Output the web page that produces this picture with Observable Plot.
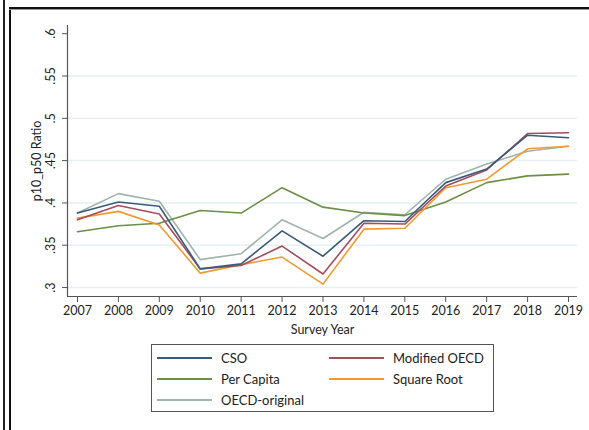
<!DOCTYPE html>
<html><head><meta charset="utf-8">
<script src="https://cdn.jsdelivr.net/npm/d3@7"></script>
<script src="https://cdn.jsdelivr.net/npm/@observablehq/plot@0.6"></script>
<style>
body{margin:0;background:#fff;font-family:Lato,sans-serif;}
#wrap{position:relative;width:589px;height:430px;overflow:hidden;background:#fff;}
.b1{position:absolute;left:3px;top:0;width:2px;height:430px;background:#222;}
.b2{position:absolute;left:9px;top:7px;width:2px;height:423px;background:#111;}
.b3{position:absolute;left:9px;top:7px;width:580px;height:2px;background:#111;}
.b4{position:absolute;left:9px;top:9px;width:580px;height:1px;background:#999;}
#chart{position:absolute;left:0;top:0;}
#legend{position:absolute;left:151px;top:344px;width:341px;height:66px;border:1px solid #555;box-sizing:content-box;font-size:13px;color:#222;}
.item{position:absolute;height:20px;display:flex;align-items:center;}
.sw{width:55px;height:2px;margin-right:9px;}
</style></head><body>
<div id="wrap"><div class="b1"></div><div class="b2"></div><div class="b3"></div><div class="b4"></div><div id="chart"></div><div id="legend"></div></div>
<script>
const years = [2007,2008,2009,2010,2011,2012,2013,2014,2015,2016,2017,2018,2019];
const cso          = [0.388,0.401,0.396,0.322,0.328,0.367,0.337,0.379,0.378,0.424,0.440,0.480,0.477];
const modifiedOecd = [0.380,0.397,0.387,0.322,0.326,0.349,0.316,0.376,0.375,0.420,0.439,0.482,0.483];
const perCapita    = [0.366,0.373,0.376,0.391,0.388,0.418,0.395,0.388,0.385,0.401,0.424,0.432,0.434];
const squareRoot   = [0.382,0.390,0.374,0.317,0.327,0.336,0.304,0.369,0.370,0.418,0.428,0.464,0.467];
const oecdOriginal = [0.388,0.411,0.402,0.333,0.340,0.380,0.358,0.389,0.386,0.428,0.446,0.461,0.467];
const seriesNames  = ["CSO","Modified OECD","Per Capita","Square Root","OECD-original"];
const seriesColors = ["#3b5b7c","#a54e5c","#6a8f45","#f39a2e","#9fb5ab"];
const yTicks = [0.3,0.35,0.4,0.45,0.5,0.55,0.6];
const yTickLabels = [".3",".35",".4",".45",".5",".55",".6"];
const gridTicks = [0.3,0.35,0.4,0.45,0.5,0.55];
const xDomain = [2006.756, 2019.22];
const yDomain = [0.2894, 0.6097];

const seriesValues = [cso, modifiedOecd, perCapita, squareRoot, oecdOriginal];
const rows = [];
seriesNames.forEach((n, s) => years.forEach((yr, i) => rows.push({series: n, year: yr, value: seriesValues[s][i]})));
const drawOrder = ["OECD-original","Per Capita","Square Root","Modified OECD","CSO"];

const chart = Plot.plot({
  width: 589, height: 336,
  marginLeft: 67, marginRight: 12, marginTop: 25, marginBottom: 40,
  style: {fontFamily: "Lato, sans-serif", fontSize: "12.5px", color: "#222", background: "transparent"},
  x: {domain: xDomain},
  y: {domain: yDomain},
  color: {domain: seriesNames, range: seriesColors},
  marks: [
    Plot.ruleY(gridTicks, {stroke: "#e6eff1", strokeWidth: 1.5}),
    Plot.ruleX([xDomain[0]], {stroke: "#555", strokeWidth: 1.2}),
    Plot.ruleY([yDomain[0]], {stroke: "#555", strokeWidth: 1.2}),
    Plot.axisY({ticks: yTicks, tickSize: 5, tickFormat: () => "", stroke: "#555", label: "p10_p50 Ratio", labelAnchor: "center", labelArrow: "none", labelOffset: 35, fontSize: 12.5}),
    Plot.text(yTicks, {y: d => d, text: (d, i) => yTickLabels[i], frameAnchor: "left", dx: -17, rotate: -90, textAnchor: "middle", lineAnchor: "middle", fontSize: 12.5, fill: "#222"}),
    Plot.axisX({ticks: years, tickSize: 6, tickPadding: 4, tickFormat: d => String(d), stroke: "#555", label: "Survey Year", labelAnchor: "center", labelArrow: "none", labelOffset: 37, fontSize: 12.5}),
    ...drawOrder.map(n => Plot.line(rows.filter(r => r.series === n), {x: "year", y: "value", stroke: "series", strokeWidth: 1.6}))
  ]
});
document.getElementById("chart").appendChild(chart);

const legend = document.getElementById("legend");
const pos = [[5,3],[177,3],[5,24],[177,24],[5,45]];
seriesNames.forEach((n, i) => {
  const it = document.createElement("div");
  it.className = "item";
  it.style.left = pos[i][0] + "px";
  it.style.top = pos[i][1] + "px";
  const sw = document.createElement("div");
  sw.className = "sw";
  sw.style.background = seriesColors[i];
  const t = document.createElement("span");
  t.textContent = n;
  it.appendChild(sw); it.appendChild(t);
  legend.appendChild(it);
});
</script>
</body></html>
